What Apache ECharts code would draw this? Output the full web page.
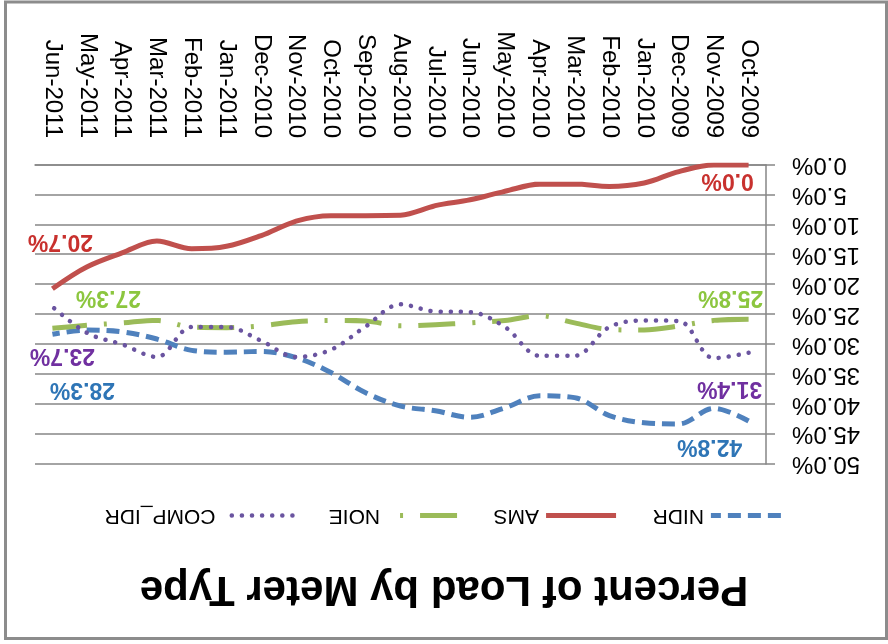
<!DOCTYPE html>
<html>
<head>
<meta charset="utf-8">
<script src="https://cdn.jsdelivr.net/npm/echarts@6/dist/echarts.min.js"></script>
<style>
  html, body { margin: 0; padding: 0; background: #ffffff; }
  #chart { width: 888px; height: 644px; transform: rotate(180deg); transform-origin: 50% 50%; }
</style>
</head>
<body>
<div id="chart"></div>
<script>
// Categories (Oct-2009 .. Jun-2011)
var categories = ['Oct-2009','Nov-2009','Dec-2009','Jan-2010','Feb-2010','Mar-2010','Apr-2010','May-2010','Jun-2010','Jul-2010','Aug-2010','Sep-2010','Oct-2010','Nov-2010','Dec-2010','Jan-2011','Feb-2011','Mar-2011','Apr-2011','May-2011','Jun-2011'];
// Series values (percent of load)
var nidr    = [42.8, 40.7, 43.3, 43.1, 41.9, 38.9, 38.6, 40.6, 42.2, 41.1, 40.3, 38.1, 34.7, 32.2, 31.2, 31.3, 31.0, 29.1, 27.9, 27.6, 28.3];
var ams     = [0.0, 0.0, 1.1, 3.0, 3.6, 3.2, 3.2, 4.4, 5.8, 6.8, 8.4, 8.5, 8.5, 9.4, 11.8, 13.6, 14.0, 12.7, 14.7, 17.0, 20.7];
var noie    = [25.8, 26.0, 26.9, 27.6, 27.5, 26.4, 25.2, 26.0, 26.4, 26.7, 26.9, 26.1, 26.0, 26.2, 26.9, 27.2, 27.1, 26.0, 26.4, 26.8, 27.3];
var compIdr = [31.4, 32.3, 26.1, 26.0, 27.1, 31.9, 31.9, 27.1, 24.6, 24.5, 23.3, 27.0, 30.9, 32.1, 29.4, 27.1, 27.1, 32.1, 30.0, 28.1, 23.7];
// Y-axis ticks
var yMin = 0, yMax = 50, yStep = 5;

var FONT = 'Liberation Sans';

var styles = {
  NIDR:     { color: '#4F81BD', width: 5, type: [13, 7], cap: 'butt' },
  AMS:      { color: '#C0504D', width: 5, type: 'solid', cap: 'butt' },
  NOIE:     { color: '#9BBB59', width: 5, type: [37, 17, 3, 17], cap: 'butt' },
  COMP_IDR: { color: '#6A54A0', width: 4.5, type: [0.1, 10], cap: 'round' }
};

function withEndLabels(values, color, firstOffset, lastOffset) {
  return values.map(function (v, i) {
    if (i === 0 || i === values.length - 1) {
      return {
        value: v,
        symbol: 'circle',
        symbolSize: 0.1,
        label: {
          show: true,
          position: 'inside',
          offset: i === 0 ? firstOffset : lastOffset,
          formatter: function (p) { return p.value.toFixed(1) + '%'; },
          color: color,
          fontFamily: FONT,
          fontWeight: 'bold',
          fontSize: 23
        }
      };
    }
    return v;
  });
}

function legendItem(name) {
  var s = styles[name];
  return {
    name: name,
    itemStyle: { opacity: 0 },
    lineStyle: { color: s.color, width: s.width, type: s.type, cap: s.cap }
  };
}

var chart = echarts.init(document.getElementById('chart'), null, { renderer: 'canvas' });
chart.setOption({
  animation: false,
  backgroundColor: '#ffffff',
  graphic: [{
    type: 'rect',
    shape: { x: 1.5, y: 5.5, width: 881, height: 636.5 },
    style: { fill: 'none', stroke: '#8c8c8c', lineWidth: 3 },
    silent: true
  }],
  title: {
    text: 'Percent of Load by Meter Type',
    left: 'center',
    top: 29,
    textStyle: { fontFamily: FONT, fontSize: 42, fontWeight: 'bold', color: '#000' }
  },
  legend: {
    top: 113,
    left: 'center',
    itemWidth: 70,
    itemHeight: 14,
    itemGap: 34,
    textStyle: { fontFamily: FONT, fontSize: 21, color: '#000', padding: [0, 0, 0, 2] },
    data: ['NIDR', 'AMS', 'NOIE', 'COMP_IDR'].map(legendItem)
  },
  grid: { left: 122, right: 35, top: 180, bottom: 165 },
  xAxis: {
    type: 'category',
    data: categories,
    boundaryGap: true,
    axisLine: { lineStyle: { color: '#868686', width: 1.5 } },
    axisTick: { length: 8, lineStyle: { color: '#868686', width: 1.5 } },
    axisLabel: { rotate: 90, margin: 27, fontFamily: FONT, fontSize: 24, color: '#000', interval: 0 }
  },
  yAxis: {
    type: 'value',
    min: yMin, max: yMax, interval: yStep,
    axisLine: { show: true, lineStyle: { color: '#868686', width: 1.5 } },
    axisTick: { show: true, length: 9, lineStyle: { color: '#868686', width: 1.5 } },
    splitLine: { lineStyle: { color: '#868686', width: 1.5 } },
    axisLabel: { margin: 26, fontFamily: FONT, fontSize: 24, color: '#000',
      formatter: function (v) { return v.toFixed(1) + '%'; } }
  },
  series: [
    {
      name: 'NIDR', type: 'line', smooth: 0.35, symbol: 'none',
      itemStyle: { color: styles.NIDR.color },
      lineStyle: styles.NIDR,
      data: withEndLabels(nidr, '#2E75B6', [39, -25], [-30, -55]),
      z: 2
    },
    {
      name: 'AMS', type: 'line', smooth: 0.35, symbol: 'none',
      itemStyle: { color: styles.AMS.color },
      lineStyle: styles.AMS,
      data: withEndLabels(ams, '#C8312E', [21, -15], [-8, 47]),
      z: 2
    },
    {
      name: 'NOIE', type: 'line', smooth: 0.35, symbol: 'none',
      itemStyle: { color: styles.NOIE.color },
      lineStyle: styles.NOIE,
      data: withEndLabels(noie, '#8CC63F', [18, 22], [-56, 31]),
      z: 2
    },
    {
      name: 'COMP_IDR', type: 'line', smooth: 0.35, symbol: 'none',
      itemStyle: { color: styles.COMP_IDR.color },
      lineStyle: styles.COMP_IDR,
      data: withEndLabels(compIdr, '#7030A0', [19, -36], [-10, -49]),
      z: 2
    }
  ]
});
</script>
</body>
</html>
